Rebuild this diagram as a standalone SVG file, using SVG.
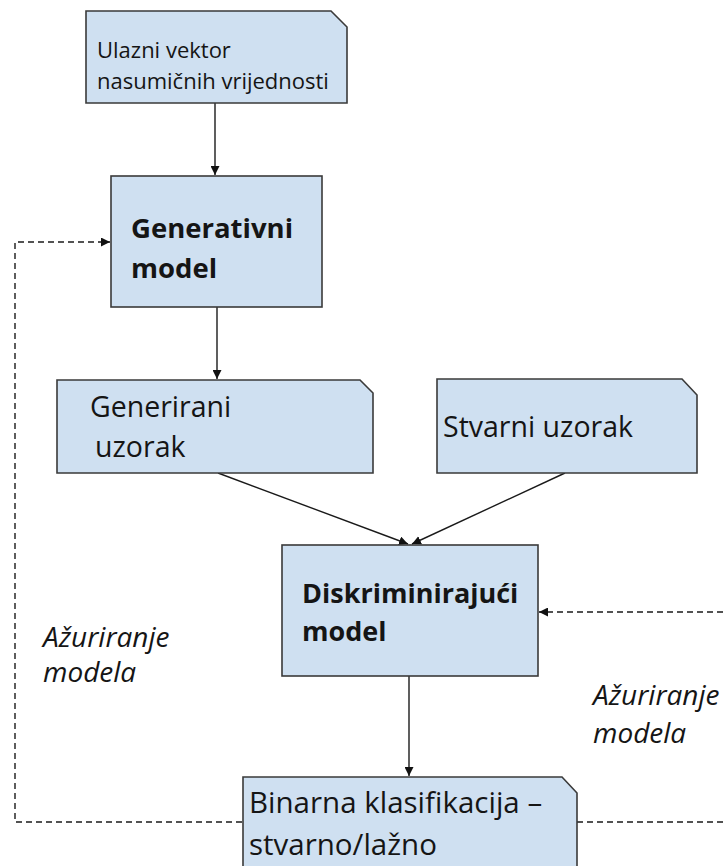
<svg xmlns="http://www.w3.org/2000/svg" width="724" height="866" viewBox="0 0 724 866">
<defs>
<marker id="ah" viewBox="0 0 10 10" refX="10" refY="5" markerWidth="9" markerHeight="9" markerUnits="userSpaceOnUse" orient="auto">
<path d="M0,0 L10,5 L0,10 z" fill="#111"/>
</marker>
<style>
.box{fill:#cfe0f1;stroke:#3a3a3a;stroke-width:1.6}
.t{font-family:"Open Sans","Liberation Sans",sans-serif;fill:#151515}
.b{font-weight:bold}
.i{font-style:italic}
.c{fill:none;stroke:#1a1a1a;stroke-width:1.4}
.d{fill:none;stroke:#1a1a1a;stroke-width:1.4;stroke-dasharray:6 4}
</style>
</defs>
<rect width="724" height="866" fill="#ffffff"/>
<g id="connectors">
<line class="c" x1="215" y1="103" x2="215" y2="175" marker-end="url(#ah)"/>
<line class="c" x1="217" y1="307" x2="217" y2="379" marker-end="url(#ah)"/>
<line class="c" x1="218" y1="473" x2="408" y2="544" marker-end="url(#ah)"/>
<line class="c" x1="565" y1="473" x2="412" y2="544" marker-end="url(#ah)"/>
<line class="c" x1="409" y1="676" x2="409" y2="776" marker-end="url(#ah)"/>
<path class="d" d="M242,822 H15 V242 H110" marker-end="url(#ah)"/>
<path class="d" d="M577,822 H725 V612 H539" marker-end="url(#ah)"/>
</g>
<g id="ulazni">
<path class="box" d="M86,11 H331 L347,27 V103 H86 Z"/>
<text class="t" font-size="22" x="97" y="58">Ulazni vektor</text>
<text class="t" font-size="22" x="97" y="89">nasumičnih vrijednosti</text>
</g>
<g id="generativni">
<rect class="box" x="111" y="176" width="211" height="131"/>
<text class="t b" font-size="27.5" x="131" y="238">Generativni</text>
<text class="t b" font-size="27.5" x="131" y="278">model</text>
</g>
<g id="generirani">
<path class="box" d="M57,380 H360 L373,393 V473 H57 Z"/>
<text class="t" font-size="28.5" x="90" y="417">Generirani</text>
<text class="t" font-size="28.5" x="95" y="457">uzorak</text>
</g>
<g id="stvarni">
<path class="box" d="M437,379 H682 L697,395 V473 H437 Z"/>
<text class="t" font-size="28.5" x="443" y="437">Stvarni uzorak</text>
</g>
<g id="diskriminirajuci">
<rect class="box" x="282" y="545" width="256" height="131"/>
<text class="t b" font-size="27" x="302" y="603">Diskriminirajući</text>
<text class="t b" font-size="27" x="302" y="641">model</text>
</g>
<g id="binarna">
<path class="box" d="M243,777 H562 L577,793 V880 H243 Z"/>
<text class="t" font-size="29.5" x="249" y="813">Binarna klasifikacija –</text>
<text class="t" font-size="29.5" x="249" y="855">stvarno/lažno</text>
</g>
<g id="labels">
<text class="t i" font-size="28" x="43" y="647">Ažuriranje</text>
<text class="t i" font-size="28" x="43" y="682">modela</text>
<text class="t i" font-size="28" x="593" y="705">Ažuriranje</text>
<text class="t i" font-size="28" x="593" y="743">modela</text>
</g>
</svg>
